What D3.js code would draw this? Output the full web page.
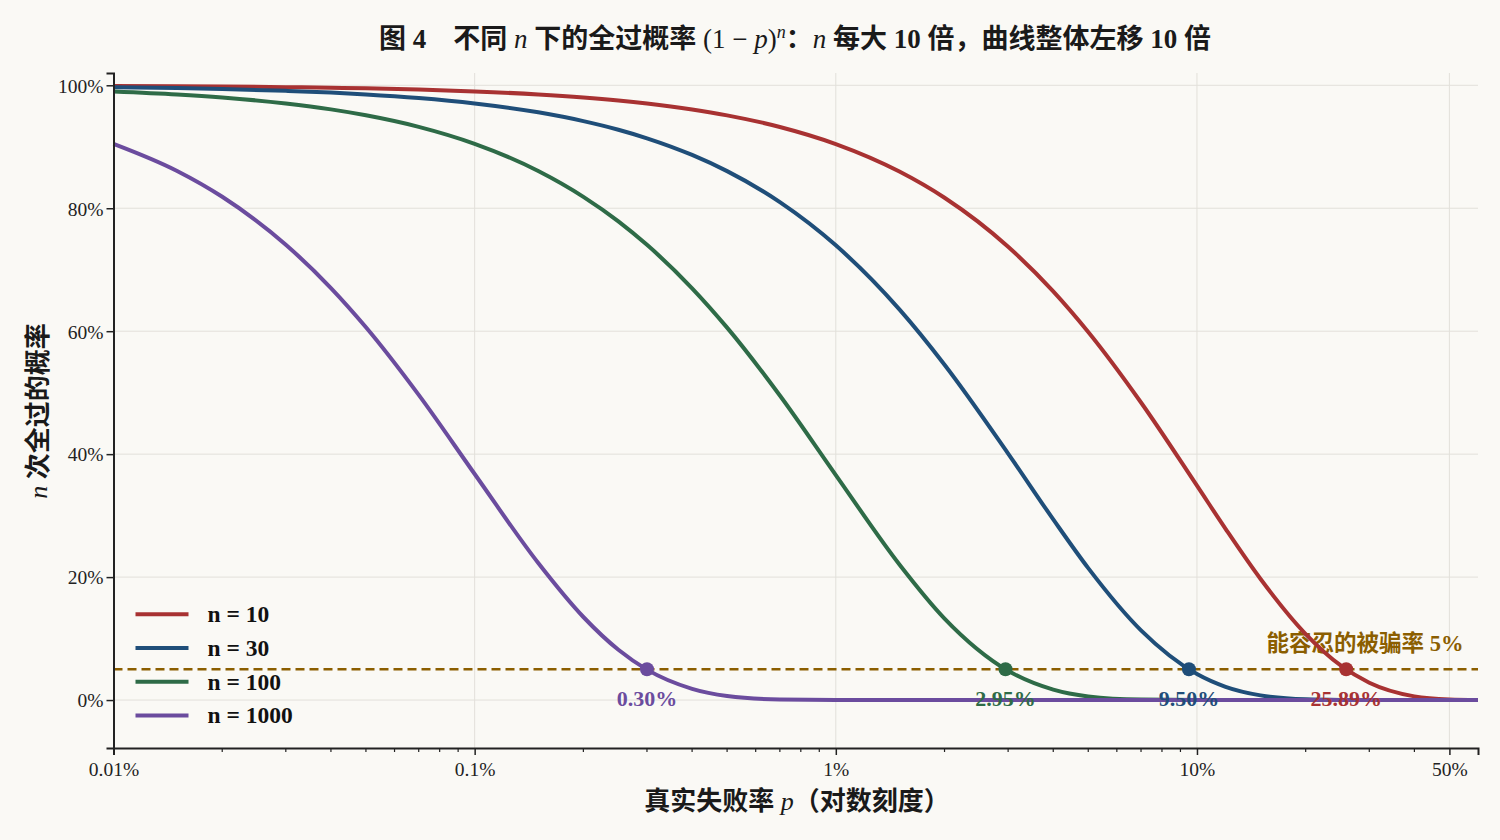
<!DOCTYPE html>
<html>
<head>
<meta charset="utf-8">
<script src="https://cdn.jsdelivr.net/npm/d3@7/dist/d3.min.js"></script>
<style>
  body { margin: 0; background: #FAF9F5; }
  svg { display: block; }
  .tick text { font-family: "Liberation Serif", "DejaVu Serif", serif; font-size: 19.5px; fill: #222; }
</style>
</head>
<body>
<div id="chart"></div>
<script>
// Data
const pGrid = [0.0001, 0.00015, 0.0002, 0.0003, 0.0004, 0.0005, 0.0007, 0.001, 0.0015, 0.002, 0.0025, 0.003,
  0.004, 0.005, 0.007, 0.01, 0.015, 0.02, 0.03, 0.04, 0.05, 0.07, 0.1, 0.12, 0.15, 0.2, 0.25, 0.3, 0.4, 0.5, 0.6];

const pass10 = [0.9990, 0.9985, 0.9980, 0.9970, 0.9960, 0.9950, 0.9930, 0.9900, 0.9851, 0.9802, 0.9753, 0.9704,
  0.9607, 0.9511, 0.9322, 0.9044, 0.8597, 0.8171, 0.7374, 0.6648, 0.5987, 0.4840, 0.3487, 0.2785, 0.1969, 0.1074, 0.0563, 0.0282, 0.0060, 0.0010, 0.0001];
const pass30 = [0.9970, 0.9955, 0.9940, 0.9910, 0.9881, 0.9851, 0.9792, 0.9704, 0.9560, 0.9417, 0.9277, 0.9138,
  0.8867, 0.8604, 0.8100, 0.7397, 0.6355, 0.5455, 0.4010, 0.2939, 0.2146, 0.1134, 0.0424, 0.0216, 0.0076, 0.0012, 0.0002, 0, 0, 0, 0];
const pass100 = [0.9900, 0.9851, 0.9802, 0.9704, 0.9608, 0.9512, 0.9324, 0.9048, 0.8606, 0.8186, 0.7787, 0.7405,
  0.6698, 0.6058, 0.4954, 0.3660, 0.2206, 0.1326, 0.0476, 0.0169, 0.0059, 0.0007, 0, 0, 0, 0, 0, 0, 0, 0, 0];
const pass1000 = [0.9048, 0.8607, 0.8187, 0.7407, 0.6702, 0.6064, 0.4964, 0.3677, 0.2229, 0.1351, 0.0818, 0.0495,
  0.0183, 0.0066, 0.0009, 0.00004, 0, 0, 0, 0, 0, 0, 0, 0, 0, 0, 0, 0, 0, 0, 0];

const seriesNames = ["n = 10", "n = 30", "n = 100", "n = 1000"];
const seriesColors = ["#A83232", "#1F4E79", "#2E6B47", "#6B4C9E"];
const crossP = [0.2589, 0.0950, 0.0295, 0.0030];
const crossLabels = ["25.89%", "9.50%", "2.95%", "0.30%"];
const tolerance = 0.05;

const xTickValues = [0.0001, 0.001, 0.01, 0.1, 0.5];
const xTickLabels = ["0.01%", "0.1%", "1%", "10%", "50%"];
const yTickValues = [0, 0.2, 0.4, 0.6, 0.8, 1.0];

const W = 1500, H = 840;
const margin = { top: 73, right: 22, bottom: 92, left: 113.5 };
const width = W - margin.left - margin.right;
const height = H - margin.top - margin.bottom;

const svg = d3.select("#chart").append("svg").attr("width", W).attr("height", H);
svg.append("rect").attr("width", W).attr("height", H).attr("fill", "#FAF9F5");

const x = d3.scaleLog().domain([0.0001, 0.6]).range([0, width]);
const y = d3.scaleLinear().domain([-0.078, 1.02]).range([height, 0]);

const g = svg.append("g").attr("transform", `translate(${margin.left},${margin.top})`);

// grid
g.append("g").selectAll("line").data(yTickValues).enter().append("line")
  .attr("x1", 0).attr("x2", width)
  .attr("y1", d => y(d)).attr("y2", d => y(d))
  .attr("stroke", "#E2E0DA").attr("stroke-width", 1);
g.append("g").selectAll("line").data(xTickValues.slice(1)).enter().append("line")
  .attr("x1", d => x(d)).attr("x2", d => x(d))
  .attr("y1", 0).attr("y2", height)
  .attr("stroke", "#E2E0DA").attr("stroke-width", 1);

// tolerance line
g.append("line")
  .attr("x1", 0).attr("x2", width)
  .attr("y1", y(tolerance)).attr("y2", y(tolerance))
  .attr("stroke", "#8B5E00").attr("stroke-width", 2.5)
  .attr("stroke-dasharray", "9,5");
g.append("text")
  .attr("x", x(0.5) + 14).attr("y", y(tolerance) - 18)
  .attr("text-anchor", "end")
  .attr("font-family", "'Liberation Serif', 'Noto Sans CJK SC', serif")
  .attr("font-size", 22.5).attr("font-weight", "bold")
  .attr("fill", "#8B5E00")
  .text("能容忍的被骗率 5%");

// curves
const allSeries = [pass10, pass30, pass100, pass1000];
const line = d3.line()
  .x(d => x(d[0]))
  .y(d => y(d[1]))
  .curve(d3.curveMonotoneX);

allSeries.forEach((vals, i) => {
  g.append("path")
    .datum(pGrid.map((p, j) => [p, vals[j]]))
    .attr("fill", "none")
    .attr("stroke", seriesColors[i])
    .attr("stroke-width", 4)
    .attr("stroke-linejoin", "round")
    .attr("d", line);
});

// crossing points
crossP.forEach((p, i) => {
  g.append("circle")
    .attr("cx", x(p)).attr("cy", y(tolerance))
    .attr("r", 7).attr("fill", seriesColors[i]);
  g.append("text")
    .attr("x", x(p)).attr("y", y(tolerance) + 37)
    .attr("text-anchor", "middle")
    .attr("font-family", "'Liberation Serif', serif")
    .attr("font-size", 22).attr("font-weight", "bold")
    .attr("fill", seriesColors[i])
    .text(crossLabels[i]);
});

// axes
const xAxis = g.append("g")
  .attr("transform", `translate(0,${height})`)
  .call(d3.axisBottom(x).tickValues(xTickValues).tickFormat((d, i) => xTickLabels[i]).tickSizeOuter(0).tickSize(7));
const minor = [];
[0.0001, 0.001, 0.01, 0.1].forEach(dec => {
  for (let k = 2; k <= 9; k++) { const v = dec * k; if (v <= 0.6 && v !== 0.5) minor.push(v); }
});
xAxis.append("g").selectAll("line").data(minor).enter().append("line")
  .attr("x1", d => x(d)).attr("x2", d => x(d))
  .attr("y1", 0).attr("y2", 4)
  .attr("stroke", "#222").attr("stroke-width", 1.2);
xAxis.selectAll(".tick text").attr("dy", "0.9em");

const yAxis = g.append("g")
  .call(d3.axisLeft(y).tickValues(yTickValues).tickFormat(d => Math.round(d * 100) + "%").tickSizeOuter(0).tickSize(7));
yAxis.selectAll(".tick text").attr("dy", "0.35em");

[xAxis, yAxis].forEach(a => {
  a.select(".domain").attr("stroke", "#222").attr("stroke-width", 2);
  a.selectAll(".tick line").attr("stroke", "#222").attr("stroke-width", 1.5);
});

// legend
const legend = g.append("g").attr("transform", `translate(22, ${y(0.1395)})`);
seriesNames.forEach((name, i) => {
  const row = legend.append("g").attr("transform", `translate(0, ${i * 33.7})`);
  row.append("line").attr("x1", 0).attr("x2", 53).attr("y1", 0).attr("y2", 0)
    .attr("stroke", seriesColors[i]).attr("stroke-width", 4);
  row.append("text").attr("x", 72).attr("y", 8)
    .attr("font-family", "'Liberation Serif', serif")
    .attr("font-size", 23.5).attr("font-weight", "bold").attr("fill", "#111")
    .text(name);
});

// title
const title = svg.append("text")
  .attr("x", 795).attr("y", 48)
  .attr("text-anchor", "middle")
  .attr("font-family", "'Liberation Serif', 'Noto Sans CJK SC', serif")
  .attr("font-size", 27).attr("font-weight", "bold").attr("fill", "#1a1a1a");
title.append("tspan").text("图 4\u2003不同 ");
title.append("tspan").attr("font-style", "italic").attr("font-weight", "normal").text("n");
title.append("tspan").text(" 下的全过概率 ");
title.append("tspan").attr("font-weight", "normal").text("(1 − ");
title.append("tspan").attr("font-style", "italic").attr("font-weight", "normal").text("p");
title.append("tspan").attr("font-weight", "normal").text(")");
title.append("tspan").attr("font-style", "italic").attr("font-weight", "normal").attr("font-size", 18).attr("dy", -10).text("n");
title.append("tspan").attr("dy", 10).text("：");
title.append("tspan").attr("font-style", "italic").attr("font-weight", "normal").text("n");
title.append("tspan").text(" 每大 10 倍，曲线整体左移 10 倍");

// axis labels
const xl = svg.append("text")
  .attr("x", 797).attr("y", 810)
  .attr("text-anchor", "middle")
  .attr("font-family", "'Liberation Serif', 'Noto Sans CJK SC', serif")
  .attr("font-size", 26).attr("font-weight", "bold").attr("fill", "#1a1a1a");
xl.append("tspan").text("真实失败率 ");
xl.append("tspan").attr("font-style", "italic").attr("font-weight", "normal").text("p");
xl.append("tspan").text("（对数刻度）");

const yl = svg.append("text")
  .attr("transform", "translate(47, 411) rotate(-90)")
  .attr("text-anchor", "middle")
  .attr("font-family", "'Liberation Serif', 'Noto Sans CJK SC', serif")
  .attr("font-size", 26).attr("font-weight", "bold").attr("fill", "#1a1a1a");
yl.append("tspan").attr("font-style", "italic").attr("font-weight", "normal").text("n");
yl.append("tspan").text(" 次全过的概率");
</script>
</body>
</html>
